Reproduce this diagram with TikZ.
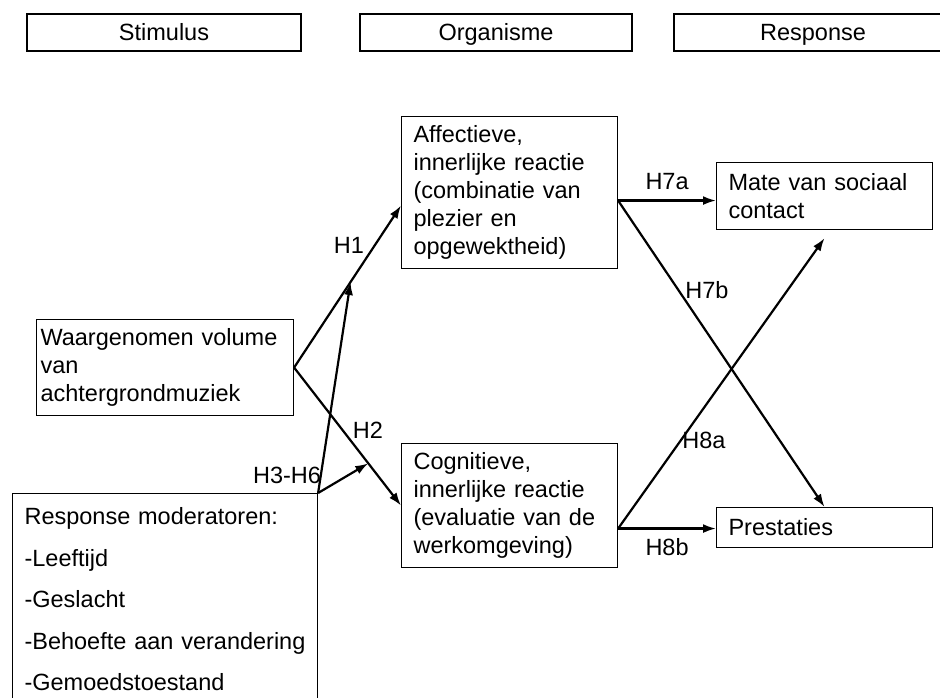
\documentclass[tikz,border=0pt]{standalone}
\usepackage{fontspec}
\setmainfont{Liberation Sans}
\usetikzlibrary{arrows.meta}

\begin{document}
\begin{tikzpicture}[x=1pt,y=-1pt,
  every node/.style={font=\fontsize{23.5}{28}\selectfont, inner sep=0pt},
  header/.style={draw, line width=1.1pt, minimum height=37pt, text height=16pt, text depth=1pt},
  box/.style={draw, line width=1.1pt, anchor=north west, align=left, inner xsep=12pt, inner ysep=0pt},
  flow/.style={-{Latex[length=13pt,width=9pt]}, line width=2.2pt}]

\useasboundingbox (0,0) rectangle (940,697);
\clip (0,0) rectangle (940,697);

% Headers of the three stages
\node[header, minimum width=274pt] (stim) at (164,32.5) {Stimulus};
\node[header, minimum width=272pt] (org) at (496,32.5) {Organisme};
\node[header, minimum width=278pt] (resp) at (813,32.5) {Response};

% Position the boxes at their corners
\node[box, inner xsep=4pt, text width=249pt, minimum height=96pt] (vol) at (36,319) {Waargenomen volume\\ van\\ achtergrondmuziek};
\node[box, inner ysep=14pt, text width=281pt] (mod) at (12,493) {Response moderatoren:\\[13.5pt] -Leeftijd\\[13.5pt] -Geslacht\\[13.5pt] -Behoefte aan verandering\\[13.5pt] -Gemoedstoestand};
\node[box, text width=192pt, minimum height=152pt] (aff) at (401,116) {Affectieve,\\ innerlijke reactie\\ (combinatie van\\ plezier en\\ opgewektheid)};
\node[box, text width=192pt, minimum height=124pt] (cog) at (401,443) {Cognitieve,\\ innerlijke reactie\\ (evaluatie van de\\ werkomgeving)};
\node[box, text width=192pt, minimum height=67pt] (mate) at (716,162) {Mate van sociaal\\ contact};
\node[box, text width=192pt, minimum height=40pt] (pres) at (716,507) {Prestaties};

\coordinate (a7) at ([yshift=-8pt]aff.east);
\coordinate (c8) at ([yshift=-23pt]cog.east);

% Draw the arrows between the boxes and label them.
\draw[flow] (vol.east) -- coordinate[pos=0.528] (h1) ([yshift=-13pt]aff.west);
\draw[flow] (vol.east) -- coordinate[pos=0.694] (h2) (cog.west);
\draw[flow] (mod.north east) -- (h1);
\draw[flow] (mod.north east) -- (h2);
\draw[flow] (a7) -- node[above=10pt] (h7a) {H7a} (a7 -| mate.west);
\draw[flow] (a7) -- (pres.north);
\draw[flow] (c8) -- ([yshift=-8pt]mate.south);
\draw[flow] (c8) -- node[below=9pt] (h8b) {H8b} (c8 -| pres.west);

\node (h1lab) at (349,245) {H1};
\node (h2lab) at (368,430) {H2};
\node (h36lab) at (287,475) {H3-H6};
\node (h7blab) at (707,290) {H7b};
\node (h8alab) at (704,440) {H8a};

\end{tikzpicture}
\end{document}
